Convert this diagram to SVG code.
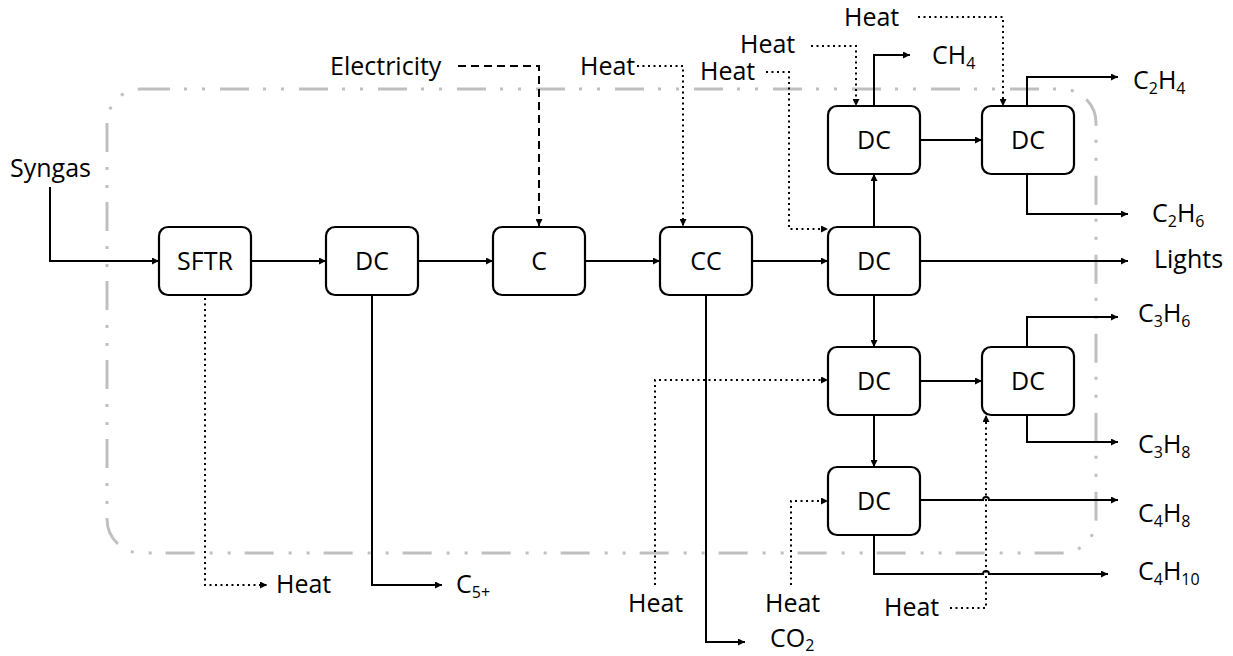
<svg xmlns="http://www.w3.org/2000/svg" width="1233" height="656" viewBox="0 0 1233 656">
<defs>
<marker id="ah" viewBox="0 0 10 10" refX="10" refY="5" markerWidth="7" markerHeight="7" markerUnits="userSpaceOnUse" orient="auto">
<path d="M0,0 L10,5 L0,10 z" fill="#000"/>
</marker>
<style>
.node rect{fill:#fff;stroke:#000;stroke-width:2.2}
text{font-family:"Open Sans","Liberation Sans",sans-serif;font-size:25px;fill:#000}
.nt{text-anchor:middle}
.sub{font-size:16px}
.s{fill:none;stroke:#000;stroke-width:2;marker-end:url(#ah)}
.d{fill:none;stroke:#000;stroke-width:2;stroke-dasharray:2 3.5;marker-end:url(#ah)}
.e{fill:none;stroke:#000;stroke-width:2;stroke-dasharray:8 5;marker-end:url(#ah)}
.bound{fill:none;stroke:#bfbfbf;stroke-width:3;stroke-dasharray:29 14 3 15 3 15}
</style>
</defs>
<rect width="1233" height="656" fill="#fff"/>
<rect class="bound" x="107" y="89" width="989" height="464" rx="34" ry="34"/>

<g id="connectors">
<path class="s" d="M50,187 V261 H159"/>
<path class="s" d="M251,261 H326"/>
<path class="s" d="M418,261 H493"/>
<path class="s" d="M585,261 H660"/>
<path class="s" d="M752,261 H828"/>
<path class="e" d="M458,66 H539 V226"/>
<path class="d" d="M637,66 H683 V226"/>
<path class="d" d="M766,72 H789 V229 H828"/>
<path class="d" d="M811,46 H856 V106"/>
<path class="d" d="M918,17 H1003 V106"/>
<path class="s" d="M874,106 V55 H910"/>
<path class="s" d="M920,140 H982"/>
<path class="s" d="M874,227 V174"/>
<path class="s" d="M1027,106 V77 H1118"/>
<path class="s" d="M1027,174 V214 H1128"/>
<path class="s" d="M920,261 H1128"/>
<path class="s" d="M874,295 V347"/>
<path class="s" d="M920,381 H982"/>
<path class="s" d="M874,415 V467"/>
<path class="s" d="M1027,347 V317 H1118"/>
<path class="s" d="M1027,415 V442 H1118"/>
<path class="s" d="M920,500 H983 A3,3 0 0 1 989,500 H1118"/>
<path class="s" d="M874,536 V574 H983 A3,3 0 0 1 989,574 H1108"/>
<path class="d" d="M950,608 H986 V415"/>
<path class="d" d="M655,585 V380 H828"/>
<path class="d" d="M791,585 V501 H828"/>
<path class="s" d="M706,295 V642 H745"/>
<path class="d" d="M205,298 V585 H267"/>
<path class="s" d="M372,295 V585 H442"/>
</g>

<g id="n-sftr" class="node"><rect x="159" y="227" width="92" height="68" rx="9"/><text class="nt" x="205" y="270">SFTR</text></g>
<g id="n-dc1" class="node"><rect x="326" y="227" width="92" height="68" rx="9"/><text class="nt" x="372" y="270">DC</text></g>
<g id="n-c" class="node"><rect x="493" y="227" width="92" height="68" rx="9"/><text class="nt" x="539" y="270">C</text></g>
<g id="n-cc" class="node"><rect x="660" y="227" width="92" height="68" rx="9"/><text class="nt" x="706" y="270">CC</text></g>
<g id="n-dc-main" class="node"><rect x="828" y="227" width="92" height="68" rx="9"/><text class="nt" x="874" y="270">DC</text></g>
<g id="n-dc-top" class="node"><rect x="828" y="106" width="92" height="68" rx="9"/><text class="nt" x="874" y="149">DC</text></g>
<g id="n-dc-topright" class="node"><rect x="982" y="106" width="92" height="68" rx="9"/><text class="nt" x="1028" y="149">DC</text></g>
<g id="n-dc-mid" class="node"><rect x="828" y="347" width="92" height="68" rx="9"/><text class="nt" x="874" y="390">DC</text></g>
<g id="n-dc-midright" class="node"><rect x="982" y="347" width="92" height="68" rx="9"/><text class="nt" x="1028" y="390">DC</text></g>
<g id="n-dc-bottom" class="node"><rect x="828" y="467" width="92" height="68" rx="9"/><text class="nt" x="874" y="510">DC</text></g>

<g id="labels">
<text x="10" y="177">Syngas</text>
<text x="330" y="75">Electricity</text>
<text x="580" y="75">Heat</text>
<text x="844" y="26">Heat</text>
<text x="740" y="53">Heat</text>
<text x="700" y="80">Heat</text>
<text x="932" y="64">CH<tspan class="sub" dy="5">4</tspan></text>
<text x="1133" y="89">C<tspan class="sub" dy="5">2</tspan><tspan dy="-5">H</tspan><tspan class="sub" dy="5">4</tspan></text>
<text x="1152" y="222">C<tspan class="sub" dy="5">2</tspan><tspan dy="-5">H</tspan><tspan class="sub" dy="5">6</tspan></text>
<text x="1154" y="268">Lights</text>
<text x="1138" y="322">C<tspan class="sub" dy="5">3</tspan><tspan dy="-5">H</tspan><tspan class="sub" dy="5">6</tspan></text>
<text x="1138" y="453">C<tspan class="sub" dy="5">3</tspan><tspan dy="-5">H</tspan><tspan class="sub" dy="5">8</tspan></text>
<text x="1138" y="522">C<tspan class="sub" dy="5">4</tspan><tspan dy="-5">H</tspan><tspan class="sub" dy="5">8</tspan></text>
<text x="1138" y="580">C<tspan class="sub" dy="5">4</tspan><tspan dy="-5">H</tspan><tspan class="sub" dy="5">10</tspan></text>
<text x="884" y="616">Heat</text>
<text x="628" y="612">Heat</text>
<text x="765" y="612">Heat</text>
<text x="770" y="647">CO<tspan class="sub" dy="4">2</tspan></text>
<text x="276" y="593">Heat</text>
<text x="456" y="593">C<tspan class="sub" dy="5">5+</tspan></text>
</g>
</svg>
